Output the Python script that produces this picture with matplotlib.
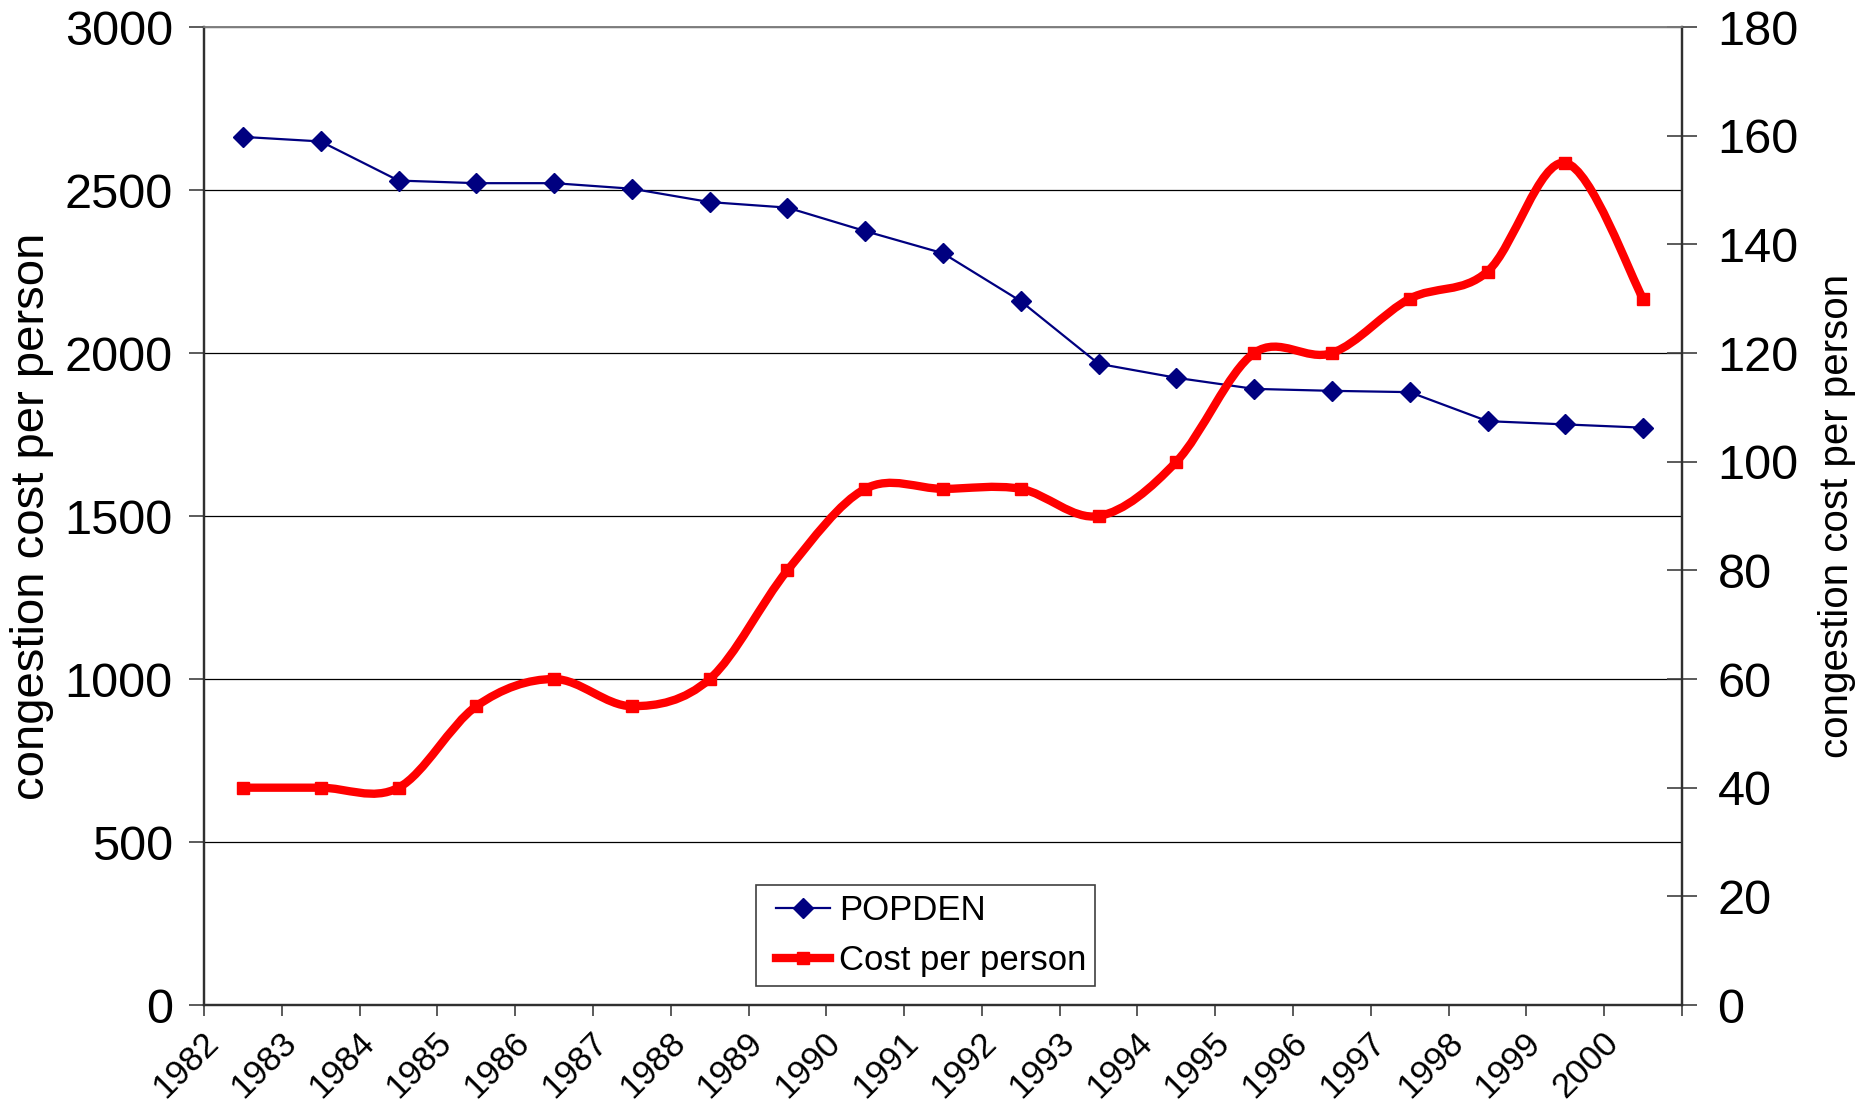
import numpy as np
import matplotlib
matplotlib.use('Agg')
import matplotlib.pyplot as plt
from matplotlib.path import Path
from matplotlib.patches import PathPatch
from matplotlib.lines import Line2D
from matplotlib.legend_handler import HandlerLine2D
import matplotlib.transforms as mtransforms

plt.rcParams['font.family'] = ['Liberation Sans', 'DejaVu Sans']

# ---- data ----
years = [str(y) for y in range(1982, 2001)]
popden = [2663, 2649, 2529, 2521, 2521, 2504, 2463, 2446, 2374, 2306,
          2159, 1967, 1924, 1890, 1884, 1880, 1791, 1781, 1771]
cost_per_person = [40, 40, 40, 55, 60, 55, 60, 80, 95, 95,
                   95, 90, 100, 120, 120, 130, 135, 155, 130]
left_ticks = [0, 500, 1000, 1500, 2000, 2500, 3000]
right_ticks = [0, 20, 40, 60, 80, 100, 120, 140, 160, 180]
ylabel_text = "congestion cost per person"


def smooth_path(xs, ys):
    pts = np.column_stack([xs, ys]).astype(float)
    n = len(pts)
    verts = [pts[0]]
    codes = [Path.MOVETO]
    for i in range(n - 1):
        p0 = pts[max(i - 1, 0)]
        p1 = pts[i]
        p2 = pts[i + 1]
        p3 = pts[min(i + 2, n - 1)]
        c1 = p1 + (p2 - p0) / 6.0
        c2 = p2 - (p3 - p1) / 6.0
        verts += [c1, c2, p2]
        codes += [Path.CURVE4] * 3
    return Path(verts, codes)


fig = plt.figure(figsize=(18.6, 11.12), dpi=100)
ax = fig.add_axes([0.1097, 0.0962, 0.7946, 0.8795])
ax2 = ax.twinx()

x = np.arange(len(years))

# POPDEN on left axis
ax.plot(x, popden, color='#000080', lw=1.6, marker='D', markersize=10,
        markerfacecolor='#000080', markeredgecolor='#000080', zorder=3)

ax.set_xlim(-0.5, len(years) - 0.5)
ax.set_ylim(0, 3000)
ax.set_yticks(left_ticks)
ax.set_yticklabels([str(t) for t in left_ticks], fontsize=35)
ax.grid(axis='y', color='black', lw=0.9)
ax.set_axisbelow(True)

ax.set_xticks(x)
ax.set_xticklabels(years, rotation=45, ha='right', va='top', fontsize=25)
ax.set_xticks(np.arange(-0.5, len(years), 1.0), minor=True)
ax.tick_params(axis='x', which='major', length=0, pad=15)
ax.tick_params(axis='x', which='minor', length=8, width=1.2, direction='out', color='#404040')
ax.tick_params(axis='y', which='major', length=10.5, width=1.2, direction='out', pad=12, color='#404040')
offset = mtransforms.ScaledTranslation(-18 / 100, 0, fig.dpi_scale_trans)
for lbl in ax.get_xticklabels():
    lbl.set_transform(lbl.get_transform() + offset)

# Cost per person on right axis (smoothed line)
ax2.set_ylim(0, 180)
ax2.set_yticks(right_ticks)
ax2.set_yticklabels([str(t) for t in right_ticks], fontsize=35)
ax2.tick_params(axis='y', which='major', length=21, width=1.2, direction='inout', pad=15, color='#404040')
patch = PathPatch(smooth_path(x, cost_per_person), fill=False, edgecolor='#FF0000',
                  lw=6, joinstyle='round', capstyle='butt', zorder=3)
ax2.add_patch(patch)
ax2.plot(x, cost_per_person, linestyle='none', marker='s', markersize=9,
         color='#FF0000', zorder=4)

for a in (ax, ax2):
    for side in ('left', 'right', 'bottom'):
        a.spines[side].set_color('#303030')
        a.spines[side].set_linewidth(1.6)
    a.spines['top'].set_color('#808080')
    a.spines['top'].set_linewidth(1.2)

ax.set_ylabel(ylabel_text, fontsize=34)
ax.yaxis.set_label_coords(-0.1016, 0.5)
ax2.set_ylabel(ylabel_text, fontsize=29, rotation=90)
ax2.yaxis.set_label_coords(1.092, 0.5)

handles = [
    Line2D([], [], color='#000080', lw=1.6, marker='D', markersize=10),
    Line2D([], [], color='#FF0000', lw=6, marker='s', markersize=9),
]
leg = ax2.legend(handles, ['POPDEN', 'Cost per person'], loc='lower left',
                 bbox_to_anchor=(0.3735, 0.0194), borderaxespad=0, fontsize=25,
                 frameon=True, fancybox=False, edgecolor='#404040', framealpha=1,
                 handlelength=1.87, labelspacing=0.5, numpoints=1,
                 borderpad=0.25, handletextpad=0.27,
                 handler_map={Line2D: HandlerLine2D(xpad=0.31)})
leg.get_frame().set_linewidth(1.2)

fig.savefig('out.png', dpi=100, facecolor='white')
